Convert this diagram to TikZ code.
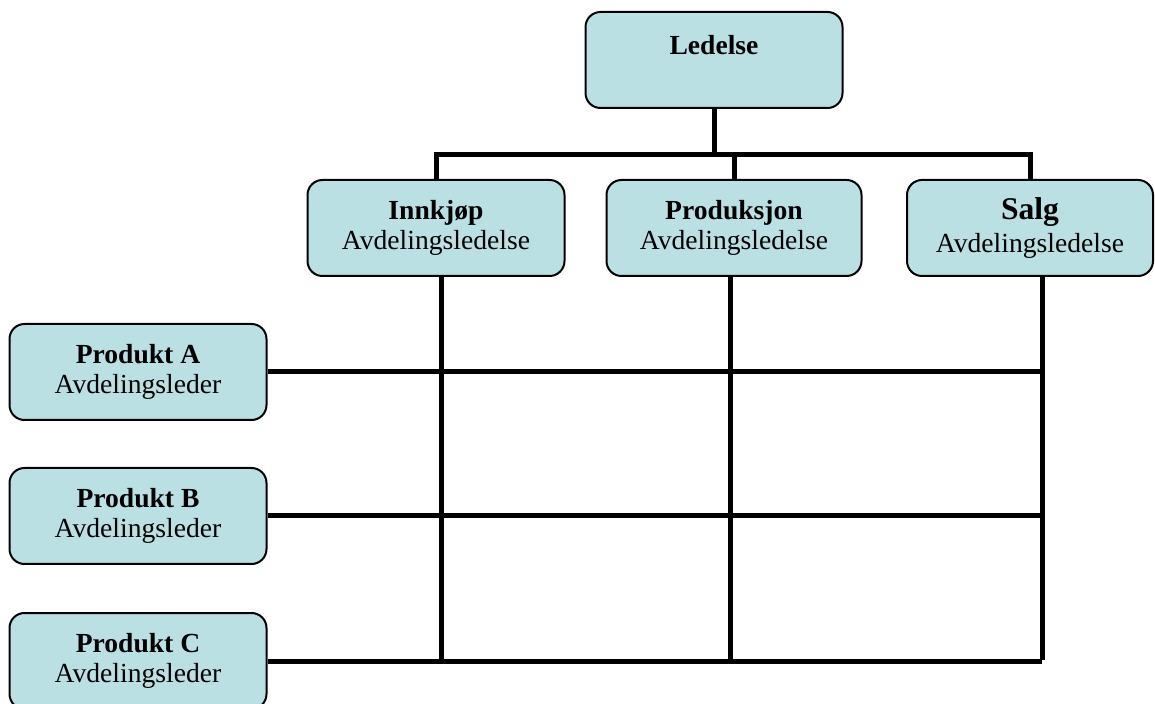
\documentclass[tikz,border=0pt]{standalone}
\usepackage{fontspec}
\setmainfont{Liberation Serif}
\definecolor{boxblue}{RGB}{187,224,227}

\begin{document}
\begin{tikzpicture}[x=0.5pt, y=-0.5pt,
        unit/.style={draw=black, line width=1pt, fill=boxblue, rounded corners=7.5pt,
            inner sep=0pt, minimum width=128.5pt, minimum height=48pt, align=center,
            font=\fontsize{13.8}{15}\selectfont},
        conn/.style={line width=2.5pt}]
            \useasboundingbox (0,0) rectangle (1155,704);

            \node[unit] (led) at (714, 60) {\textbf{Ledelse}\\ \mbox{}};

            \node[unit] (innk) at (436, 228) {\textbf{Innkjøp}\\Avdelingsledelse};
            \node[unit, minimum width=127.5pt] (prod) at (734, 228) {\textbf{Produksjon}\\Avdelingsledelse};
            \node[unit, minimum width=123pt, font=\fontsize{13.8}{16.5}\selectfont] (salg) at (1030, 228)
                {{\fontsize{15.8}{16}\selectfont\textbf{Salg}}\\Avdelingsledelse};

            \node[unit] (pa) at (138, 372) {\textbf{Produkt A}\\Avdelingsleder};
            \node[unit] (pb) at (138, 516) {\textbf{Produkt B}\\Avdelingsleder};
            \node[unit] (pc) at (138, 661) {\textbf{Produkt C}\\Avdelingsleder};

            \coordinate (bar) at (714, 155);
            \coordinate (innkend) at (441, 660);
            \coordinate (prodend) at (730, 660);
            \coordinate (salgend) at (1042, 660);

            \draw[conn] (led.south) -- (led.south |- bar);
            \draw[conn] (innk.north) |- (salg.north |- bar) -- (salg.north);
            \draw[conn] (prod.north) -- (prod.north |- bar);

            \draw[conn] (innkend |- innk.south) -- (innkend);
            \draw[conn] (prodend |- prod.south) -- (prodend);
            \draw[conn] (salgend |- salg.south) -- (salgend);

            \draw[conn] (pa.east) -- (pa.east -| salgend);
            \draw[conn] (pb.east) -- (pb.east -| salgend);
            \draw[conn] (pc.east) -- (pc.east -| salgend);
\end{tikzpicture}
\end{document}
